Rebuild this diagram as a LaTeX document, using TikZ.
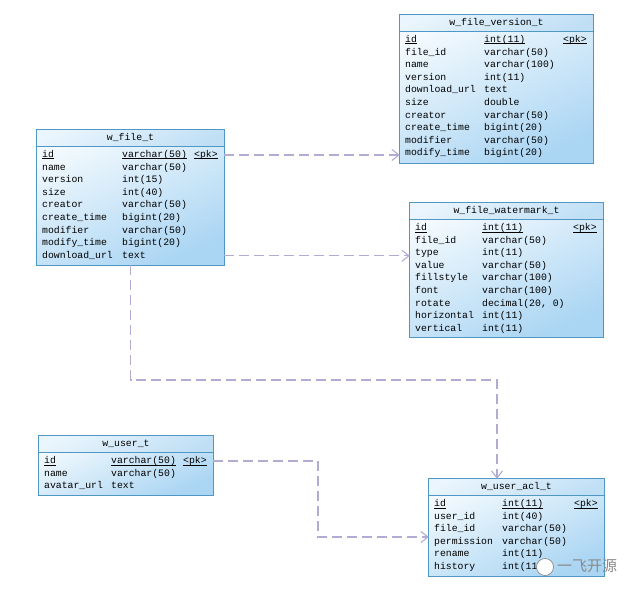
\documentclass[tikz,border=0pt]{standalone}
\usepackage{fontspec}
\setmonofont{Liberation Mono}
\newfontfamily\cjk{Noto Sans CJK SC}
\usetikzlibrary{arrows.meta,calc}
\definecolor{tabborder}{HTML}{4F97C4}
\definecolor{bodylight}{HTML}{F4FAFE}
\definecolor{bodydark}{HTML}{AAD5F3}
\definecolor{headlight}{HTML}{EAF5FD}
\definecolor{headdark}{HTML}{C0DFF5}
\definecolor{relcol}{HTML}{B2ACD4}
\definecolor{wmgray}{HTML}{8A8A8A}
\newcommand\myul[1]{\setbox0\hbox{#1}\rlap{\rule[-1.6bp]{\wd0}{0.6bp}}\box0}
\tikzset{
  tabbody/.style={inner sep=0pt, shading=axis, top color=bodylight, bottom color=bodydark, shading angle=25},
  headfill/.style={shading=axis, top color=headlight, bottom color=headdark, shading angle=25},
  tabline/.style={draw=tabborder, line width=0.9bp},
  cell/.style={anchor=west, inner sep=0pt, text height=7bp, text depth=2bp, font=\ttfamily\fontsize{9.8bp}{11bp}\selectfont, text=black},
  titletext/.style={inner sep=0pt, text height=7bp, text depth=2bp, font=\ttfamily\fontsize{9.8bp}{11bp}\selectfont, text=black},
  rel/.style={draw=relcol, line width=1.1bp, dash pattern=on 10bp off 5bp, -{Straight Barb[length=7bp,width=11bp]}},
}
\newcommand\ertab[9]{%
  \node[tabbody, minimum width={(#4-#2)*1bp}, minimum height={(#5-#3)*1bp}] (#1) at ({(#2+#4)/2},{(#3+#5)/2}) {};
  \path[headfill] (#1.north west) rectangle ([yshift=-17bp]#1.north east);
  \draw[tabline] ([yshift=-17bp]#1.north west) -- ([yshift=-17bp]#1.north east);
  \draw[tabline] (#1.north west) rectangle (#1.south east);
  \node[titletext] (#1-title) at ([yshift=-8.5bp]#1.north) {#6};
  \node[cell] (#1-id) at (#2+5,#3+25) {\myul{id}};
  \node[cell] (#1-idtype) at (#7,#3+25) {\myul{#8}};
  \node[cell] (#1-pk) at (#4-30,#3+25) {\myul{<pk>}};
  \foreach \n/\t [count=\i] in {#9} {
    \node[cell] (#1-r\i) at (#2+5,#3+25+12.6*\i) {\n};
    \node[cell] (#1-t\i) at (#7,#3+25+12.6*\i) {\t};
  }
}
\begin{document}
\begin{tikzpicture}[x=1bp,y=-1bp]
\useasboundingbox[fill=white] (0,0) rectangle (640,594);

\ertab{fv}{400}{15}{593}{163}{w\_file\_version\_t}{484}{int(11)}{file\_id/varchar(50), name/varchar(100), version/int(11), download\_url/text, size/double, creator/varchar(50), create\_time/bigint(20), modifier/varchar(50), modify\_time/bigint(20)}

\ertab{ft}{37}{130}{224}{265}{w\_file\_t}{122}{varchar(50)}{name/varchar(50), version/int(15), size/int(40), creator/varchar(50), create\_time/bigint(20), modifier/varchar(50), modify\_time/bigint(20), download\_url/text}

\ertab{fw}{410}{203}{603}{337}{w\_file\_watermark\_t}{482}{int(11)}{file\_id/varchar(50), type/int(11), value/varchar(50), fillstyle/varchar(100), font/varchar(100), rotate/{decimal(20,\ 0)}, horizontal/int(11), vertical/int(11)}

\ertab{ut}{39}{436}{213}{495}{w\_user\_t}{111}{varchar(50)}{name/varchar(50), avatar\_url/text}

\ertab{acl}{429}{479}{604}{576}{w\_user\_acl\_t}{502}{int(11)}{user\_id/int(40), file\_id/varchar(50), permission/varchar(50), rename/int(11), history/int(11)}

% relations
\draw[rel] (ft-id -| ft.east) -- (ft-id -| fv.west);
\draw[rel] (ft-r8 -| ft.east) -- (ft-r8 -| fw.west);
\coordinate (bendA) at (497,380);
\draw[rel] (ft.south) |- (bendA) -- (bendA |- acl.north);
\coordinate (bendB) at (318,537);
\draw[rel] (ut-id -| ut.east) -| (bendB) -- (bendB -| acl.west);

% watermark
\node[circle, draw=wmgray, fill=white, line width=0.7bp, minimum size=17bp, inner sep=0pt] (wmicon) at (545,567) {};
\node[anchor=west, inner sep=0pt, text=wmgray, font=\cjk\fontsize{15bp}{16bp}\selectfont] (wmtext) at (557,566) {一飞开源};
\end{tikzpicture}
\end{document}
